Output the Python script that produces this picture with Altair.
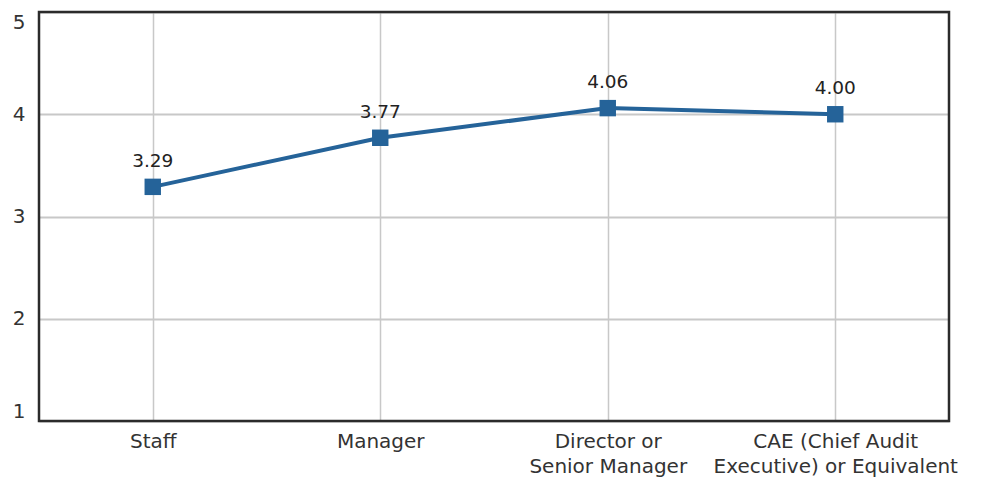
import altair as alt
import pandas as pd

categories = ["Staff", "Manager", "Director or Senior Manager", "CAE (Chief Audit Executive) or Equivalent"]
values = [3.29, 3.77, 4.06, 4.00]
labels = ["3.29", "3.77", "4.06", "4.00"]

df = pd.DataFrame({"cat": categories, "val": values, "lab": labels})

FONT = "DejaVu Sans"
LINE = "#256399"
W, H = 910, 409

x = alt.X("cat:N", sort=categories, title=None,
          scale=alt.Scale(paddingInner=0, paddingOuter=0),
          axis=alt.Axis(labelAngle=0, labelFontSize=20, labelFont=FONT, labelColor="#333333",
                        labelPadding=10, labelLineHeight=25, domain=False, ticks=False, grid=True,
                        gridColor="#c8c8c8", gridWidth=1.5, labelLimit=400,
                        bandPosition=0.5,
                        labelExpr="split(replace(replace(datum.label, ' Senior', '|Senior'), ' Executive', '|Executive'), '|')"))
y = alt.Y("val:Q", title=None,
          scale=alt.Scale(domain=[1, 5], nice=False, zero=False),
          axis=alt.Axis(values=[1, 2, 3, 4, 5], format="d", labelFontSize=20, labelFont=FONT,
                        labelColor="#333333", labelPadding=14, labelFlush=True,
                        domain=False, ticks=False,
                        gridColor="#c8c8c8", gridWidth=2))

base = alt.Chart(df)
line = base.mark_line(color=LINE, strokeWidth=4).encode(x=x, y=y)
pts = base.mark_square(color=LINE, size=270, opacity=1).encode(x=x, y=y)
txt = base.mark_text(dy=-26, fontSize=18.5, font=FONT, fontWeight=500, color="#222222").encode(
    x=x, y=y, text="lab:N")
frame = alt.Chart(df.head(1)).mark_rect(fillOpacity=0, stroke="#2b2b2b", strokeWidth=2.5).encode(
    x=alt.value(0), x2=alt.value(W), y=alt.value(0), y2=alt.value(H))

chart = (line + pts + txt + frame).properties(
    width=W, height=H,
    autosize=alt.AutoSizeParams(type="none"),
    padding={"left": 31, "top": 4, "right": 30, "bottom": 60},
).configure(background="white").configure_view(stroke=None)

chart.save("out.html", embed_options={"renderer": "svg", "actions": False})
